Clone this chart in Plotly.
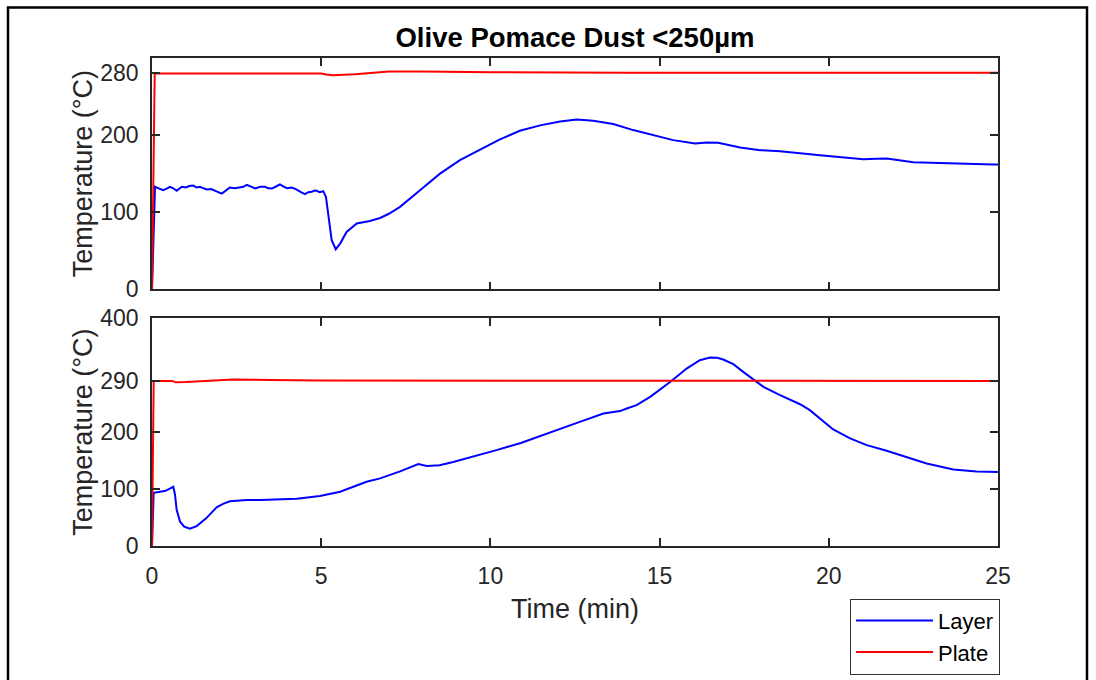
import plotly.graph_objects as go
from plotly.subplots import make_subplots

# ---- Data ----
top_layer_t = [0, 0.09, 0.2, 0.33, 0.45, 0.53, 0.63, 0.73, 0.88, 1.0, 1.1, 1.22, 1.32, 1.42, 1.52,
               1.62, 1.75, 1.9, 2.06, 2.15, 2.3, 2.45, 2.6, 2.7, 2.8, 2.92, 3.05, 3.2, 3.34, 3.44,
               3.54, 3.65, 3.78, 3.9, 4.0, 4.13, 4.25, 4.4, 4.52, 4.62, 4.72, 4.8, 4.87, 4.95, 5.06,
               5.14, 5.21, 5.31, 5.43, 5.56, 5.75, 6.05, 6.44, 6.74, 7.0, 7.33, 7.92, 8.51, 9.1,
               9.69, 10.28, 10.87, 11.47, 12.06, 12.55, 13.04, 13.63, 14.22, 14.81, 15.4, 16.05,
               16.4, 16.73, 17.38, 17.97, 18.56, 19.74, 21.02, 21.4, 21.71, 22.5, 23.67, 24.86, 25]
top_layer_v = [0, 133, 131, 128.6, 131, 133, 131, 127.8, 133, 132, 134, 134.6, 132, 133, 131,
               129.4, 130, 127, 124.2, 127, 132, 131, 132, 133, 135.5, 133, 130.7, 133, 133, 131,
               130.7, 133, 136, 133, 131, 132, 130, 126, 123.4, 126, 126.4, 128, 127.8, 126, 127.3,
               119.9, 94, 63.6, 52, 59.3, 74.4, 85.3, 88.7, 92.5, 98, 106.9, 128.6, 150, 167.5,
               181.4, 194.4, 205.6, 212.6, 217.7, 220.3, 218.6, 214.3, 206.5, 200.4, 193.5, 189.2,
               190.5, 190, 184, 180.5, 179.2, 174, 168.8, 169.2, 169.7, 164.9, 163, 162, 162]

top_plate_t = [0, 0.08, 5.0, 5.15, 5.35, 6.0, 7.0, 8.0, 10, 14, 25]
top_plate_v = [0, 280, 280, 278.5, 277.5, 279, 282.5, 282.5, 281.5, 281, 281]

bot_layer_t = [0, 0.05, 0.2, 0.4, 0.63, 0.68, 0.73, 0.83, 0.95, 1.12, 1.32, 1.6, 1.91, 2.1, 2.3,
               2.8, 3.2, 3.59, 4.28, 4.96, 5.56, 6.34, 6.74, 7.33, 7.87, 8.12, 8.5, 8.9, 9.5, 10.18,
               10.9, 11.66, 12.64, 13.34, 13.63, 13.83, 14.03, 14.32, 14.72, 15.31, 15.8, 16.19,
               16.49, 16.7, 16.88, 17.18, 17.47, 17.82, 18.07, 18.56, 19.15, 19.44, 19.74, 20.13,
               20.63, 21.12, 21.71, 22.3, 22.89, 23.68, 24.37, 25]
bot_layer_v = [0, 93.5, 95, 97, 104, 90, 63, 42.7, 34, 30.4, 35, 48.5, 67.8, 74, 78.4,
               80.7, 81, 81.9, 83, 87.7, 95.3, 112.8, 118.7, 131, 143.9, 140.4, 142, 147.4, 157, 168.4,
               181, 197.7, 218, 232.8, 235.5, 237, 241.5, 247.4, 262, 288, 311.7, 326.3,
               331, 330.5, 327.5, 319.3, 305.8, 290, 279.5, 265, 249, 238.6, 224, 204.7,
               189, 177.2, 167.2, 156.7, 145, 134.5, 131, 129.8]

bot_plate_t = [0, 0.05, 0.6, 0.7, 1.0, 1.5, 2.4, 3.5, 5, 25]
bot_plate_v = [0, 290, 290, 287.5, 288, 290, 292.4, 291.5, 290.5, 290]

x_ticks = [0, 5, 10, 15, 20, 25]
top_y_ticks = [0, 100, 200, 280]
bot_y_ticks = [0, 100, 200, 290, 400]

title_text = "Olive Pomace Dust <250µm"
y_label = "Temperature (°C)"
x_label = "Time (min)"

# ---- Figure ----
FONT = "Liberation Sans, Arial, sans-serif"
AX = "#262626"
BLUE = "#0000FF"
RED = "#FF0000"

fig = make_subplots(rows=2, cols=1, shared_xaxes=False, vertical_spacing=0.0)

fig.add_trace(go.Scatter(x=top_layer_t, y=top_layer_v, mode="lines", name="Layer",
                         line=dict(color=BLUE, width=2), showlegend=True), row=1, col=1)
fig.add_trace(go.Scatter(x=top_plate_t, y=top_plate_v, mode="lines", name="Plate",
                         line=dict(color=RED, width=2), showlegend=True), row=1, col=1)
fig.add_trace(go.Scatter(x=bot_layer_t, y=bot_layer_v, mode="lines", name="Layer",
                         line=dict(color=BLUE, width=2), showlegend=False), row=2, col=1)
fig.add_trace(go.Scatter(x=bot_plate_t, y=bot_plate_v, mode="lines", name="Plate",
                         line=dict(color=RED, width=2), showlegend=False), row=2, col=1)

common_axis = dict(showline=True, linecolor=AX, linewidth=1.5, mirror="ticks",
                   ticks="inside", ticklen=8, tickwidth=1.5, tickcolor=AX,
                   showgrid=False, zeroline=False, automargin=False,
                   tickfont=dict(family=FONT, size=23, color=AX))

fig.update_layout(
    width=1096, height=680,
    margin=dict(l=152, r=98, t=57.5, b=134, autoexpand=False),
    paper_bgcolor="white", plot_bgcolor="white",
    font=dict(family=FONT, color=AX),
    xaxis=dict(domain=[0, 1], range=[0, 25], tickvals=x_ticks, showticklabels=False, **common_axis),
    yaxis=dict(domain=[0.526, 1.0], range=[0, 300], tickvals=top_y_ticks, ticklabelstandoff=7,
               title=dict(text=y_label, font=dict(family=FONT, size=27, color=AX), standoff=0),
               **common_axis),
    xaxis2=dict(domain=[0, 1], range=[0, 25], tickvals=x_ticks, ticklabelstandoff=9,
                title=dict(text=x_label, font=dict(family=FONT, size=27, color=AX), standoff=11),
                **common_axis),
    yaxis2=dict(domain=[0.0, 0.4667], range=[0, 400], tickvals=bot_y_ticks, ticklabelstandoff=7,
                title=dict(text=y_label, font=dict(family=FONT, size=27, color=AX), standoff=0),
                **common_axis),
    title=dict(text="<b>" + title_text + "</b>", xref="paper", x=0.5, xanchor="center",
               y=1 - 37 / 680, yanchor="middle",
               font=dict(family=FONT, size=27.5, color="black")),
    legend=dict(x=1.0024, xanchor="right", y=-0.1079, yanchor="top",
                bgcolor="white", bordercolor="#333333", borderwidth=1,
                font=dict(family=FONT, size=22, color="black"),
                itemwidth=77, tracegroupgap=0),
    showlegend=True,
)

# outer figure frame
fig.add_shape(type="rect", xref="paper", yref="paper",
              x0=(8 - 152) / 846, x1=(1087 - 152) / 846,
              y0=(546 - 700) / 488.5, y1=(546 - 7) / 488.5,
              line=dict(color="black", width=2.5), fillcolor="rgba(0,0,0,0)", layer="below")

fig.write_html("out.html")
